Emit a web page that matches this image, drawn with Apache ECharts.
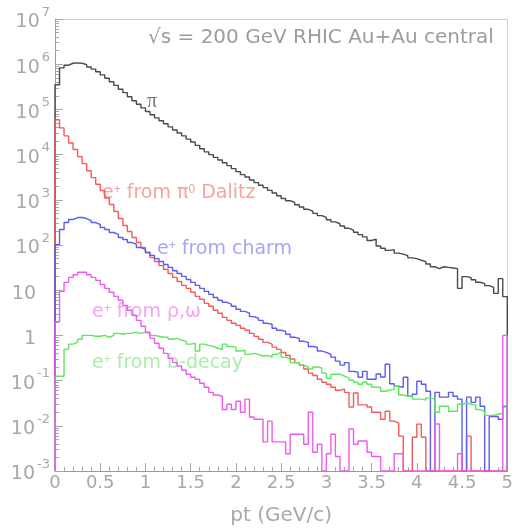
<!DOCTYPE html>
<html>
<head>
<meta charset="utf-8">
<script src="https://cdn.jsdelivr.net/npm/echarts@6/dist/echarts.min.js"></script>
<style>
html,body{margin:0;padding:0;background:#fff;}
#chart{width:516px;height:531px;}
</style>
</head>
<body>
<div id="chart"></div>
<script>
// ---- data (histograms, 100 bins of 0.05 GeV/c from 0 to 5) ----
const binWidth = 0.05;
const ptMin = 0, ptMax = 5;
const xTickStep = 0.5;

const pion = [3.5e5, 8.3e5, 9.5e5, 1.05e6, 1.07e6, 1.05e6, 9.8e5, 8.7e5, 7.8e5, 6.8e5,
 5.8e5, 4.9e5, 4.1e5, 3.4e5, 2.8e5, 2.35e5, 1.9e5, 1.55e5, 1.3e5, 1.08e5,
 9.0e4, 7.6e4, 6.5e4, 5.6e4, 4.8e4, 4.1e4, 3.5e4, 3.0e4, 2.6e4, 2.2e4,
 1.9e4, 1.6e4, 1.35e4, 1.15e4, 1.0e4, 8700, 7600, 6600, 5700, 4900,
 4200, 3600, 3200, 2750, 2400, 2100, 1860, 1620, 1410, 1230,
 1070, 955, 871, 776, 692, 617, 562, 501, 447, 407,
 363, 324, 295, 263, 234, 214, 191, 170, 151, 126,
 135, 95, 85, 76, 79, 66, 63, 58, 52, 50,
 46, 43, 38, 33, 30, 33, 32, 31, 30, 11,
 20, 19, 17, 15, 14, 12.6, 11.5, 8.5, 18, 7.2];

const dalitz = [5.9e4, 3.9e4, 2.6e4, 1.8e4, 1.3e4, 9000, 6300, 4400, 3100, 2200,
 1600, 1100, 790, 550, 385, 270, 199, 147, 114, 88,
 68, 53, 43, 35, 29, 23.5, 19.2, 15.6, 12.8, 11.0,
 9.0, 7.3, 6.3, 5.1, 4.4, 3.6, 3.1, 2.5, 2.15, 1.85,
 1.67, 1.44, 1.30, 1.11, 0.95, 0.82, 0.70, 0.64, 0.55, 0.49,
 0.42, 0.36, 0.30, 0.25, 0.22, 0.18, 0.146, 0.13, 0.107, 0.092,
 0.083, 0.071, 0.061, 0.065, 0.055, 0.026, 0.053, 0.029, 0.029, 0.026,
 0.020, 0.020, 0.014, 0.021, 0.0127, 0.0115, 0.0059, 0, 0, 0.0056,
 0.0109, 0.0056, 0, 0, 0, 0, 0, 0, 0, 0,
 0, 0.0059, 0, 0, 0, 0, 0, 0, 0, 0];

const charm = [102, 220, 314, 366, 405, 405, 385, 348, 314, 284,
 244, 220, 189, 171, 147, 132, 114, 103, 88, 80,
 68, 59, 50, 43, 37, 32, 27, 23.5, 20.2, 17.3,
 14.9, 12.8, 11.0, 9.4, 8.1, 6.9, 6.0, 5.4, 4.9, 4.4,
 3.8, 3.4, 3.1, 2.6, 2.4, 2.15, 1.85, 1.76, 1.44, 1.30,
 1.23, 1.06, 0.91, 0.86, 0.74, 0.70, 0.57, 0.55, 0.45, 0.42,
 0.38, 0.33, 0.27, 0.22, 0.25, 0.16, 0.153, 0.119, 0.16, 0.107,
 0.107, 0.14, 0.12, 0.23, 0.085, 0.075, 0.071, 0.119, 0.045, 0.050,
 0.097, 0.083, 0.058, 0, 0.055, 0.043, 0.043, 0.055, 0.045, 0.039,
 0, 0.043, 0.033, 0.043, 0.027, 0, 0.016, 0.016, 0.014, 0.027];

const bdecay = [0.125, 0.125, 0.49, 0.64, 0.70, 0.82, 1.00, 1.00, 0.955, 0.955,
 1.00, 0.91, 1.00, 1.11, 1.06, 1.11, 1.11, 1.17, 1.11, 1.17,
 1.11, 1.00, 0.955, 0.91, 0.91, 0.82, 0.86, 0.78, 0.74, 0.64,
 0.67, 0.45, 0.64, 0.60, 0.57, 0.52, 0.49, 0.64, 0.57, 0.55,
 0.45, 0.47, 0.38, 0.40, 0.38, 0.35, 0.36, 0.33, 0.38, 0.42,
 0.33, 0.30, 0.25, 0.25, 0.22, 0.20, 0.18, 0.20, 0.19, 0.146,
 0.113, 0.138, 0.138, 0.125, 0.113, 0.102, 0.092, 0.083, 0.092, 0.083,
 0.071, 0.071, 0.058, 0.061, 0.065, 0.075, 0.048, 0.045, 0.045, 0.039,
 0.039, 0.037, 0.041, 0.039, 0.020, 0.027, 0.027, 0.021, 0.021, 0.030,
 0.032, 0.030, 0.029, 0.023, 0.021, 0.017, 0.017, 0.018, 0.019, 0.026];

const rhoOmega = [2.0, 9.4, 14.9, 19.2, 22, 25, 25, 22, 19.2, 16.5,
 13.4, 11.0, 9.0, 7.3, 6.0, 4.6, 3.6, 2.8, 2.15, 1.59,
 1.17, 0.86, 0.67, 0.52, 0.40, 0.31, 0.25, 0.21, 0.17, 0.138,
 0.119, 0.107, 0.0875, 0.071, 0.055, 0.048, 0.045, 0.023, 0.030, 0.023,
 0.035, 0.020, 0.039, 0.0156, 0.014, 0.014, 0.0044, 0.0127, 0.0044, 0.0044,
 0.0044, 0.0024, 0.0065, 0.0065, 0.0065, 0.0039, 0.020, 0.0026, 0.0039, 0,
 0.0024, 0.0065, 0.0021, 0, 0, 0.0085, 0.0039, 0.0046, 0.0046, 0.0026,
 0.0021, 0.0021, 0, 0, 0, 0.0024, 0.0024, 0, 0, 0,
 0, 0, 0, 0, 0.011, 0, 0, 0, 0, 0.0024,
 0, 0, 0, 0, 0, 0, 0, 0, 0, 1.0];

// y axis: decades 10^-3 .. 10^7
const yMin = 1e-3, yMax = 1e7;
const yTickValues = [1e-3, 1e-2, 1e-1, 1, 10, 1e2, 1e3, 1e4, 1e5, 1e6, 1e7];
const yTickBase   = ['10', '10', '10', '1', '10', '10', '10', '10', '10', '10', '10'];
const yTickExp    = ['-3', '-2', '-1', '', '', '2', '3', '4', '5', '6', '7'];
const yMinorMultipliers = [2, 3, 4, 5, 6, 7, 8, 9];

// ---- helpers ----
const yMinorValues = [];
yTickValues.slice(0, -1).forEach(d => yMinorMultipliers.forEach(m => yMinorValues.push(+(m * d).toPrecision(3))));

function histPoints(vals) {
  const pts = [[ptMin, yMin]];
  vals.forEach((v, i) => pts.push([+(i * binWidth).toFixed(2), v > 0 ? v : yMin]));
  const last = vals[vals.length - 1];
  pts.push([ptMax, last > 0 ? last : yMin]);
  pts.push([ptMax, yMin]);
  return pts;
}

const FONT = 'DejaVu Sans';
const TICK_GREY = '#a8a8a8';
const AXIS_GREY = '#9a9a9a';

function yLabel(v) {
  let best = 0, bd = 1e9;
  yTickValues.forEach((t, i) => { const d = Math.abs(Math.log10(t) - Math.log10(v)); if (d < bd) { bd = d; best = i; } });
  const e = yTickExp[best];
  return e ? '{b|' + yTickBase[best] + '}{s|' + e + '}' : '{b|' + yTickBase[best] + '}{p| }';
}

const series = [
  {name: 'pi', data: pion, color: '#4a4a4a'},
  {name: 'dalitz', data: dalitz, color: '#f25c5c'},
  {name: 'charm', data: charm, color: '#5c5cf0'},
  {name: 'bdecay', data: bdecay, color: '#5ee65e'},
  {name: 'rho', data: rhoOmega, color: '#ee5cee'}
].map((s, k) => ({
  name: s.name, type: 'line', step: 'end', symbol: 'none', z: 3 + k,
  xAxisIndex: 0, yAxisIndex: 0,
  lineStyle: {color: s.color, width: 1.4},
  itemStyle: {color: s.color},
  data: histPoints(s.data), animation: false
}));

const chart = echarts.init(document.getElementById('chart'), null, {renderer: 'canvas'});
chart.setOption({
  animation: false,
  backgroundColor: '#ffffff',
  grid: {left: 55, right: 5, top: 19, bottom: 59, show: false},
  xAxis: [{
    type: 'value', min: ptMin, max: ptMax, interval: xTickStep,
    name: 'pt (GeV/c)', nameLocation: 'middle', nameGap: 35,
    nameTextStyle: {fontFamily: FONT, fontSize: 20, color: TICK_GREY},
    axisLine: {show: true, onZero: false, lineStyle: {color: AXIS_GREY, width: 1}},
    axisTick: {show: true, inside: true, length: 8, lineStyle: {color: TICK_GREY}},
    minorTick: {show: true, splitNumber: 5, length: 4, lineStyle: {color: TICK_GREY}},
    axisLabel: {margin: 3, fontFamily: FONT, fontSize: 18, color: TICK_GREY,
      formatter: v => String(+v.toFixed(1))},
    splitLine: {show: false}, minorSplitLine: {show: false}
  }, {
    type: 'value', min: ptMin, max: ptMax, position: 'top',
    axisLine: {show: true, onZero: false, lineStyle: {color: '#c4c4c4', type: 'dotted', width: 1}},
    axisTick: {show: false}, axisLabel: {show: false}, splitLine: {show: false}
  }],
  yAxis: [{
    type: 'log', logBase: 10, min: yMin, max: yMax, position: 'left',
    axisLine: {show: true, onZero: false, lineStyle: {color: AXIS_GREY, width: 1}},
    axisTick: {show: true, inside: true, length: 8, customValues: yTickValues, lineStyle: {color: TICK_GREY}},
    axisLabel: {
      customValues: yTickValues, margin: 5, formatter: yLabel,
      rich: {
        b: {fontFamily: FONT, fontSize: 19, color: TICK_GREY, lineHeight: 26, verticalAlign: 'bottom'},
        s: {fontFamily: FONT, fontSize: 13, color: TICK_GREY, lineHeight: 12, verticalAlign: 'top', padding: [0, 0, 0, 2]},
        p: {fontFamily: FONT, fontSize: 13, width: 14}
      }
    },
    splitLine: {show: false}
  }, {
    type: 'log', logBase: 10, min: yMin, max: yMax, position: 'left',
    axisLine: {show: false},
    axisTick: {show: true, inside: true, length: 4, customValues: yMinorValues, lineStyle: {color: TICK_GREY}},
    axisLabel: {show: false}, splitLine: {show: false}
  }, {
    type: 'log', logBase: 10, min: yMin, max: yMax, position: 'right',
    axisLine: {show: true, onZero: false, lineStyle: {color: '#c4c4c4', type: 'dotted', width: 1}},
    axisTick: {show: false}, axisLabel: {show: false}, splitLine: {show: false}
  }],
  graphic: {elements: [
    {type: 'text', x: 148, y: 38, z: 1, style: {text: '√s = 200 GeV RHIC Au+Au central', fill: '#9c9c9c', font: '20px "DejaVu Sans"', verticalAlign: 'middle'}},
    {type: 'text', x: 147, y: 102, z: 1, style: {text: 'π', fill: '#777777', font: '20px "Liberation Serif"', verticalAlign: 'middle'}},
    {type: 'text', x: 102, y: 193, z: 1, style: {text: 'e{s|+} from π{s|0} Dalitz', fill: '#f5a3a3', font: '19px "DejaVu Sans"', verticalAlign: 'middle',
      rich: {s: {fontSize: 12, fill: '#f5a3a3', verticalAlign: 'top', lineHeight: 12}}}},
    {type: 'text', x: 157, y: 249, z: 1, style: {text: 'e{s|+} from charm', fill: '#a6a6f5', font: '19px "DejaVu Sans"', verticalAlign: 'middle',
      rich: {s: {fontSize: 12, fill: '#a6a6f5', verticalAlign: 'top', lineHeight: 12}}}},
    {type: 'text', x: 92, y: 312, z: 1, style: {text: 'e{s|+} from ρ,ω', fill: '#f3a6f3', font: '19px "DejaVu Sans"', verticalAlign: 'middle',
      rich: {s: {fontSize: 12, fill: '#f3a6f3', verticalAlign: 'top', lineHeight: 12}}}},
    {type: 'text', x: 92, y: 363, z: 1, style: {text: 'e{s|+} from b-decay', fill: '#aaeeaa', font: '19px "DejaVu Sans"', verticalAlign: 'middle',
      rich: {s: {fontSize: 12, fill: '#aaeeaa', verticalAlign: 'top', lineHeight: 12}}}}
  ]},
  series: series
});
</script>
</body>
</html>
